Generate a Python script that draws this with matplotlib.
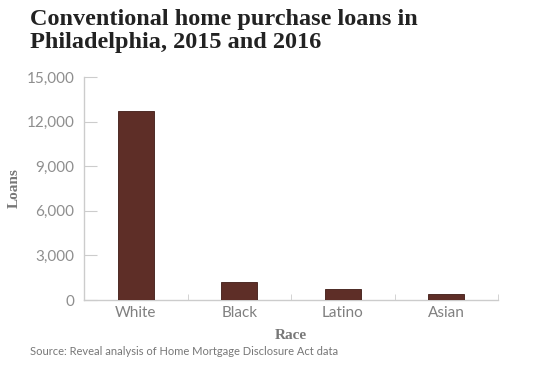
import matplotlib
matplotlib.use("Agg")
import matplotlib.pyplot as plt
import numpy as np
from matplotlib.ticker import FuncFormatter

categories = ["White", "Black", "Latino", "Asian"]
loans = [12700, 1200, 750, 420]
yticks = [0, 3000, 6000, 9000, 12000, 15000]

fig = plt.figure(figsize=(5.4, 3.66), dpi=100)
ax = fig.add_axes([84/540, 1-300/366, (498-84)/540, (300-77)/366])

x = np.arange(len(categories))
ax.bar(x, loans, width=0.35, color="#5e2e27", edgecolor="#3e1a15", linewidth=0.6, zorder=3)
ax.set_xlim(-0.5, len(categories)-0.5)
ax.set_ylim(0, 15000)
ax.set_yticks(yticks)
ax.yaxis.set_major_formatter(FuncFormatter(lambda v, p: f"{int(v):,}"))
ax.set_xticks(x)
ax.set_xticklabels(categories)
ax.set_xticks(np.arange(len(categories)+1)-0.5, minor=True)
ax.tick_params(axis="x", which="major", length=0, pad=4, labelsize=11, labelcolor="#808080")
ax.tick_params(axis="x", which="minor", length=4, direction="in", color="#cccccc")
ax.tick_params(axis="y", length=9, direction="in", color="#cccccc", pad=7, labelsize=11, labelcolor="#8e8e8e")
for lab in ax.get_xticklabels() + ax.get_yticklabels():
    lab.set_family("Lato")
for s in ["top", "right"]:
    ax.spines[s].set_visible(False)
for s in ["left", "bottom"]:
    ax.spines[s].set_color("#cccccc")
    ax.spines[s].set_linewidth(1)

ax.set_ylabel("Loans", family="Liberation Serif", fontweight="bold", fontsize=11, color="#777777", labelpad=4)
ax.set_xlabel("Race", family="Liberation Serif", fontweight="bold", fontsize=11, color="#777777", labelpad=7)

fig.text(30/540, 1-9/366, "Conventional home purchase loans in\nPhiladelphia, 2015 and 2016",
         family="Liberation Serif", fontweight="bold", fontsize=17.5, color="#222222",
         va="top", ha="left", linespacing=1.15)
fig.text(30/540, 1-355/366, "Source: Reveal analysis of Home Mortgage Disclosure Act data",
         family="Lato", fontsize=8, color="#777777", va="baseline", ha="left")

fig.savefig("out.png", dpi=100)
